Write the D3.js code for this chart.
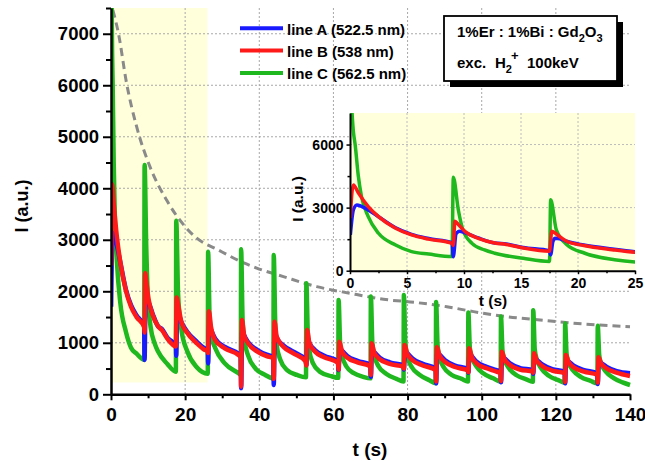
<!DOCTYPE html>
<html>
<head>
<meta charset="utf-8">
<script src="https://cdn.jsdelivr.net/npm/d3@7/dist/d3.min.js"></script>
<style>
  body { margin: 0; background: #fff; }
  svg { display: block; font-family: "Liberation Sans", Arial, sans-serif; font-weight: bold; }
</style>
</head>
<body>
<svg id="chart" width="645" height="461"></svg>
<script>
// intensity (a.u.) vs time (s)
const lineA = [
  [0.03,1700],[0.3,2900],[0.6,3130],[1.0,3060],[1.6,2890],[2.5,2570],[4.0,2040],[5.4,1730],[6.9,1530],[8.95,1330],[9.06,667],
  [9.3,1750],[9.6,1880],[10.1,1800],[11.25,1560],[12.7,1320],[13.7,1270],[15.2,1100],[17.5,950],[17.6,750],
  [17.8,1400],[18.0,1540],[18.4,1520],[19.0,1400],[20.5,1220],[23,1030],[25.1,900],[26.1,860],[26.2,600],
  [26.5,1350],[27.0,1250],[28.1,1080],[30.7,920],[34.4,790],[35.0,750],[35.1,120],
  [35.4,1250],[35.9,1150],[37,1010],[39.5,860],[42,770],[43.8,730],[43.9,180],
  [44.2,1200],[44.7,1100],[46.5,950],[49.2,826],[52.5,670],[52.7,570],
  [53.0,1100],[53.5,1000],[55,860],[57.5,750],[61.2,640],[61.4,470],
  [61.7,900],[62.3,850],[63.8,740],[66.5,650],[70.0,570],[70.1,342],
  [70.4,870],[71,820],[72.5,710],[75.2,620],[78.9,567],[79.0,480],
  [79.3,850],[79.9,800],[81.4,690],[84.1,590],[87.6,500],[87.7,213],
  [88.0,800],[88.6,770],[90.1,660],[92.8,560],[96.3,490],[96.4,420],
  [96.7,780],[97.3,740],[98.6,632],[101.3,535],[104,470],[105.1,437],[105.2,235],
  [105.5,720],[106.1,700],[107.6,600],[110.3,510],[113.8,470],[113.9,400],
  [114.2,700],[114.8,670],[116.3,580],[119,490],[122.4,437],[122.5,213],
  [122.8,670],[123.4,640],[124.9,550],[127.6,470],[131.2,405],[131.3,200],
  [131.6,630],[132.2,610],[133.7,530],[136.4,450],[140,410]
];

const lineB = [
  [0.03,2500],[0.15,3600],[0.3,4080],[0.73,3700],[1.6,3050],[2.5,2570],[4.0,2020],[5.4,1700],[6.9,1500],[8.95,1300],[9.06,1200],
  [9.2,2350],[9.5,2200],[10.1,1860],[11.25,1540],[12.7,1320],[13.7,1250],[15.2,1080],[17.5,930],
  [17.7,1880],[18.2,1700],[19.0,1400],[20.5,1200],[23,1000],[25.1,870],[26.1,840],[26.2,800],
  [26.4,1610],[27.0,1300],[28.1,1054],[30.7,893],[34.4,763],[35.0,720],[35.1,150],
  [35.3,1443],[35.9,1150],[37,990],[39.5,830],[42,740],[43.8,700],[43.9,300],
  [44.1,1410],[44.7,1118],[46.5,925],[49.2,796],[52.5,640],[52.7,560],
  [52.9,1250],[53.5,1000],[55,830],[57.5,720],[61.2,610],[61.4,480],
  [61.6,1021],[62.3,840],[63.8,710],[66.5,620],[70.0,540],[70.1,380],
  [70.3,990],[71,810],[72.5,680],[75.2,590],[78.9,537],[79.0,500],
  [79.2,957],[79.9,790],[81.4,660],[84.1,560],[87.6,470],[87.7,250],
  [87.9,912],[88.6,760],[90.1,630],[92.8,530],[96.3,460],[96.4,430],
  [96.6,893],[97.3,730],[98.6,602],[101.3,505],[104,440],[105.1,407],[105.2,260],
  [105.4,827],[106.1,690],[107.6,570],[110.3,480],[113.8,440],[113.9,420],
  [114.1,796],[114.8,660],[116.3,550],[119,460],[122.4,407],[122.5,240],
  [122.7,763],[123.4,630],[124.9,520],[127.6,440],[131.2,375],[131.3,230],
  [131.5,718],[132.2,600],[133.7,500],[136.4,420],[140,355]
];

const lineC = [
  [0.12,8000],[0.3,6600],[0.45,6000],[0.73,4500],[1.0,3550],[1.6,2570],[2.5,1780],[4.0,1220],[5.4,905],[6.9,790],[8.95,670],
  [9.06,4450],[9.5,2900],[9.9,1950],[10.7,1300],[11.8,985],[12.7,830],[15.2,590],[17.5,440],
  [17.6,3370],[18.1,1940],[19.0,1250],[20.6,830],[23.2,520],[26.1,400],
  [26.2,2770],[26.6,1500],[27.2,1100],[28.1,900],[30.7,600],[34.4,410],[35.0,380],
  [35.1,2815],[35.5,1450],[36.0,1050],[37.0,750],[39,500],[41.5,380],[43.8,310],
  [43.9,2705],[44.3,1400],[44.6,990],[45.7,666],[47.5,470],[50.2,375],[52.6,330],
  [52.7,2155],[53.1,1150],[53.5,850],[54.5,600],[56.5,430],[59.5,350],[61.3,320],
  [61.4,1830],[61.8,1000],[62.3,760],[63.5,540],[65.5,410],[68,340],[70.0,310],
  [70.1,1900],[70.5,1000],[71,760],[72.2,540],[74.2,400],[77,300],[78.9,250],
  [79.0,1930],[79.4,1000],[79.9,740],[81.2,520],[83.2,380],[86,270],[87.6,215],
  [87.7,1790],[88.1,950],[88.6,720],[89.8,520],[91.8,380],[94.6,300],[96.3,250],
  [96.4,1590],[96.8,900],[97.3,730],[98.6,537],[100.4,407],[103.1,310],[105.1,245],
  [105.2,1510],[105.6,850],[106.1,680],[107.4,500],[109.4,370],[112,290],[113.8,245],
  [113.9,1630],[114.3,880],[114.8,690],[116.1,500],[118.1,360],[120.8,270],[122.4,225],
  [122.5,1375],[122.9,780],[123.4,620],[124.7,460],[126.7,340],[129.4,260],[131.2,213],
  [131.3,1330],[131.7,760],[132.2,600],[133.5,440],[135.5,320],[138,230],[140,180]
];

// grey dashed envelope through the peaks
const fitCurve = [
  [0.5,7460],[2,7010],[4.2,6040],[6.9,5200],[10.5,4420],[15,3770],[20,3255],[23,3040],[29,2800],
  [36,2545],[39.3,2450],[46.5,2285],[55.5,2090],[64.5,1960],[73.5,1845],[82.5,1780],[90.6,1700],
  [97.8,1605],[106.8,1507],[115.8,1443],[124.8,1380],[140,1313]
];

const highlightT = [0, 26];
const highlightI = [230, 7500];

const mainXTicks = [0, 20, 40, 60, 80, 100, 120, 140];
const mainXMinor = [10, 30, 50, 70, 90, 110, 130];
const mainYTicks = [0, 1000, 2000, 3000, 4000, 5000, 6000, 7000];
const mainYMinor = [500, 1500, 2500, 3500, 4500, 5500, 6500, 7500];
const insetXTicks = [0, 5, 10, 15, 20, 25];
const insetXMinor = [2.5, 7.5, 12.5, 17.5, 22.5];
const insetYTicks = [0, 3000, 6000];
const insetYMinor = [1500, 4500];

const series = [
  { name: "line A (522.5 nm)", data: lineA, color: "#1a1aff" },
  { name: "line B (538 nm)", data: lineB, color: "#ff1a1a" },
  { name: "line C (562.5 nm)", data: lineC, color: "#1fb81f" }
];
// green underneath, red on top
const drawOrder = [series[2], series[0], series[1]];

const svg = d3.select("#chart");
const defs = svg.append("defs");
const fmt = d3.format("d");

const x = d3.scaleLinear().domain([0, 140]).range([111, 630]);
const y = d3.scaleLinear().domain([0, 7500]).range([394.3, 8]);
const xi = d3.scaleLinear().domain([0, 25]).range([350, 635]);
const yi = d3.scaleLinear().domain([0, 7500]).range([270.7, 113]);

defs.append("clipPath").attr("id", "clip-main").append("rect")
  .attr("x", x(0)).attr("y", y(7500)).attr("width", x(140) - x(0) + 2).attr("height", y(0) - y(7500));
defs.append("clipPath").attr("id", "clip-inset").append("rect")
  .attr("x", xi(0)).attr("y", yi(7500)).attr("width", xi(25) - xi(0)).attr("height", yi(0) - yi(7500));

// ---- main plot ----
svg.append("rect")
  .attr("x", x(highlightT[0])).attr("y", y(highlightI[1]))
  .attr("width", x(highlightT[1]) - x(highlightT[0]))
  .attr("height", y(highlightI[0]) - y(highlightI[1]))
  .attr("fill", "#ffffdc");

const grid = svg.append("g").attr("stroke", "#a8a8a8").attr("stroke-width", 1).attr("stroke-dasharray", "2,2");
mainXTicks.filter(t => t > 0 && t < 140).forEach(t => {
  grid.append("line").attr("x1", x(t)).attr("x2", x(t)).attr("y1", y(7500)).attr("y2", y(0));
});
mainYTicks.filter(v => v > 0).forEach(v => {
  grid.append("line").attr("x1", x(0)).attr("x2", x(140)).attr("y1", y(v)).attr("y2", y(v));
});

function drawLines(g, xs, ys, width, clipId) {
  const line = d3.line().x(d => xs(d[0])).y(d => ys(d[1])).curve(d3.curveMonotoneX);
  const lg = g.append("g").attr("clip-path", "url(#" + clipId + ")");
  drawOrder.forEach(s => {
    lg.append("path")
      .attr("d", line(s.data))
      .attr("fill", "none")
      .attr("stroke", s.color)
      .attr("stroke-width", width)
      .attr("stroke-linejoin", "round");
  });
  return lg;
}

const mainG = svg.append("g");
const fitLine = d3.line().x(d => x(d[0])).y(d => y(d[1])).curve(d3.curveMonotoneX);
mainG.append("path")
  .attr("d", fitLine(fitCurve))
  .attr("fill", "none")
  .attr("stroke", "#8a8a8a")
  .attr("stroke-width", 3)
  .attr("stroke-dasharray", "8,5")
  .attr("clip-path", "url(#clip-main)");
drawLines(mainG, x, y, 4.5, "clip-main");

function styleAxis(g, domainW, tickW, fontSize) {
  g.select(".domain").attr("stroke", "#000").attr("stroke-width", domainW);
  g.selectAll(".tick line").attr("stroke", "#000").attr("stroke-width", tickW);
  g.selectAll(".tick text").attr("fill", "#000").attr("font-size", fontSize)
    .attr("font-family", "'Liberation Sans', Arial, sans-serif").attr("font-weight", "bold");
}

const xAxisG = svg.append("g").attr("transform", `translate(0,${y(0)})`);
xAxisG.append("g").call(d3.axisBottom(x).tickValues(mainXMinor).tickFormat("").tickSize(4).tickSizeOuter(0))
  .call(g => { g.select(".domain").remove(); g.selectAll(".tick line").attr("stroke", "#000").attr("stroke-width", 2); });
xAxisG.append("g").call(d3.axisBottom(x).tickValues(mainXTicks).tickFormat(fmt).tickSize(6).tickSizeOuter(0).tickPadding(7))
  .call(g => styleAxis(g, 2.5, 2, 19));

const yAxisG = svg.append("g").attr("transform", `translate(${x(0)},0)`);
yAxisG.append("g").call(d3.axisLeft(y).tickValues(mainYMinor).tickFormat("").tickSize(5).tickSizeOuter(0))
  .call(g => { g.select(".domain").remove(); g.selectAll(".tick line").attr("stroke", "#000").attr("stroke-width", 2); });
yAxisG.append("g").call(d3.axisLeft(y).tickValues(mainYTicks).tickFormat(fmt).tickSize(8).tickSizeOuter(0).tickPadding(4))
  .call(g => styleAxis(g, 2.5, 2, 18.5));

svg.append("text").attr("x", 370).attr("y", 456).attr("text-anchor", "middle")
  .attr("font-size", 19).text("t (s)");
svg.append("text").attr("transform", "translate(28,206) rotate(-90)").attr("text-anchor", "middle")
  .attr("font-size", 18).text("I (a.u.)");

// ---- inset ----
svg.append("rect")
  .attr("x", xi(0)).attr("y", yi(7500)).attr("width", xi(25) - xi(0)).attr("height", yi(0) - yi(7500))
  .attr("fill", "#ffffdc");
const igrid = svg.append("g").attr("stroke", "#bcbcbc").attr("stroke-width", 1).attr("stroke-dasharray", "2,2");
insetXTicks.filter(t => t > 0 && t < 25).forEach(t => {
  igrid.append("line").attr("x1", xi(t)).attr("x2", xi(t)).attr("y1", yi(7500)).attr("y2", yi(0));
});
insetYTicks.filter(v => v > 0).forEach(v => {
  igrid.append("line").attr("x1", xi(0)).attr("x2", xi(25)).attr("y1", yi(v)).attr("y2", yi(v));
});
drawLines(svg.append("g"), xi, yi, 3.5, "clip-inset");

const ixAxisG = svg.append("g").attr("transform", `translate(0,${yi(0)})`);
ixAxisG.append("g").call(d3.axisBottom(xi).tickValues(insetXMinor).tickFormat("").tickSize(2.5).tickSizeOuter(0))
  .call(g => { g.select(".domain").remove(); g.selectAll(".tick line").attr("stroke", "#000").attr("stroke-width", 1.5); });
ixAxisG.append("g").call(d3.axisBottom(xi).tickValues(insetXTicks).tickFormat(fmt).tickSize(3.5).tickSizeOuter(0).tickPadding(4))
  .call(g => styleAxis(g, 2, 1.5, 14));

const iyAxisG = svg.append("g").attr("transform", `translate(${xi(0)},0)`);
iyAxisG.append("g").call(d3.axisLeft(yi).tickValues(insetYMinor).tickFormat("").tickSize(2.5).tickSizeOuter(0))
  .call(g => { g.select(".domain").remove(); g.selectAll(".tick line").attr("stroke", "#000").attr("stroke-width", 1.5); });
iyAxisG.append("g").call(d3.axisLeft(yi).tickValues(insetYTicks).tickFormat(fmt).tickSize(3.5).tickSizeOuter(0).tickPadding(3))
  .call(g => styleAxis(g, 2, 1.5, 14));

svg.append("text").attr("x", 493).attr("y", 306).attr("text-anchor", "middle")
  .attr("font-size", 15.5).text("t (s)");
svg.append("text").attr("transform", "translate(303,199) rotate(-90)").attr("text-anchor", "middle")
  .attr("font-size", 15.5).text("I (a.u.)");

// ---- legend ----
const legend = svg.append("g");
series.forEach((s, i) => {
  const ly = 28.3 + i * 22.3;
  legend.append("line").attr("x1", 240).attr("x2", 283).attr("y1", ly).attr("y2", ly)
    .attr("stroke", s.color).attr("stroke-width", 4);
  legend.append("text").attr("x", 287).attr("y", ly + 6.5).attr("font-size", 15).text(s.name);
});

// ---- sample box ----
const box = svg.append("g");
box.append("rect").attr("x", 450).attr("y", 22).attr("width", 173).attr("height", 65).attr("fill", "#000");
box.append("rect").attr("x", 444).attr("y", 16).attr("width", 173).attr("height", 65)
  .attr("fill", "#fff").attr("stroke", "#000").attr("stroke-width", 1.8);
const t1 = box.append("text").attr("x", 457).attr("y", 37).attr("font-size", 15);
t1.append("tspan").text("1%Er : 1%Bi : Gd");
t1.append("tspan").attr("font-size", 11).attr("dy", 5).text("2");
t1.append("tspan").attr("dy", -5).text("O");
t1.append("tspan").attr("font-size", 11).attr("dy", 5).text("3");
const t2 = box.append("text").attr("x", 457).attr("y", 68).attr("font-size", 15);
t2.append("tspan").text("exc.");
t2.append("tspan").attr("x", 495).text("H");
t2.append("tspan").attr("font-size", 11).attr("dy", 5).text("2");
t2.append("tspan").attr("font-size", 13).attr("dy", -13).attr("dx", -1).text("+");
t2.append("tspan").attr("dy", 8).attr("x", 527).text("100keV");
</script>
</body>
</html>
